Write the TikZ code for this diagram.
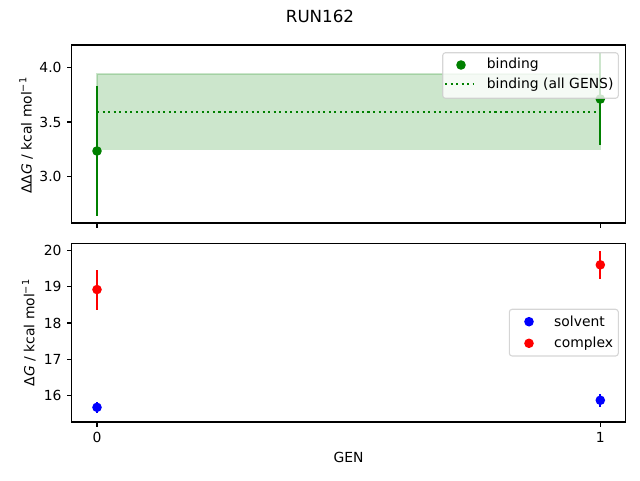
\documentclass[tikz,border=0pt]{standalone}
\usepackage{fontspec}
\setmainfont{DejaVu Sans}
\definecolor{mplgreen}{HTML}{008000}
\definecolor{mplblue}{HTML}{0000FF}
\definecolor{mplred}{HTML}{FF0000}
\definecolor{legendedge}{HTML}{CCCCCC}
\newcommand{\mplfont}{\fontsize{13.9}{16.7}\selectfont}
\begin{document}
\begin{tikzpicture}[x=1pt,y=1pt,
    spine/.style={line width=1.11pt},
    tickmark/.style={line width=1.11pt},
    ticklabel/.style={font=\mplfont,inner sep=0pt},
    errbar/.style={line width=2.08pt},
    meanline/.style={line width=2.08pt,dash pattern=on 2.08pt off 3.44pt},
    dot/.style={circle,fill,inner sep=0pt,minimum size=9.6pt},
    legendbox/.style={draw=legendedge,line width=1.11pt,fill=white,fill opacity=0.8,draw opacity=0.8,rounded corners=2.8pt},
    legendtext/.style={font=\mplfont,inner sep=0pt,anchor=west}]
  \useasboundingbox (0,0) rectangle (640,480);
  \node[font=\fontsize{16.7}{20}\selectfont,anchor=base] (title) at (320,457.3) {RUN162};

  % upper panel: binding
  \begin{scope}[x=503.3pt,y=109.4pt,shift={(97pt,-24.9pt)}]
    \filldraw[mplgreen,fill opacity=0.2,draw opacity=0.2,line width=1.39pt] (0,3.25) rectangle (1,3.94);
    \draw[meanline,mplgreen] (0,3.595) -- (1,3.595);
    \draw[errbar,mplgreen] (0,2.645) -- (0,3.825);
    \draw[errbar,mplgreen] (1,3.29) -- (1,4.13);
    \node[dot,mplgreen] (bind0) at (0,3.235) {};
    \node[dot,mplgreen] (bind1) at (1,3.71) {};
    \draw[spine] (-0.05,2.577) rectangle (1.05,4.204);
    \foreach \v [count=\i] in {3.0,3.5,4.0}
      \draw[tickmark] (-0.05,\v) -- ++(-4.86pt,0) node[ticklabel,anchor=east,xshift=-4.86pt] (ytop\i) {\v};
    \foreach \g in {0,1}
      \draw[tickmark] (\g,2.577) -- ++(0,-4.86pt);
  \end{scope}
  \node[font=\mplfont,rotate=90,anchor=base] (ylabeltop) at (31.7,344.5) {ΔΔ\textit{G} / kcal mol\textsuperscript{−1}};

  % lower panel: solvent and complex
  \begin{scope}[x=503.3pt,y=36.35pt,shift={(97pt,-497.3pt)}]
    \draw[errbar,mplred] (0,18.37) -- (0,19.47);
    \draw[errbar,mplred] (1,19.22) -- (1,19.98);
    \draw[errbar,mplblue] (0,15.52) -- (0,15.84);
    \draw[errbar,mplblue] (1,15.70) -- (1,16.05);
    \node[dot,mplred] (cplx0) at (0,18.92) {};
    \node[dot,mplred] (cplx1) at (1,19.6) {};
    \node[dot,mplblue] (solv0) at (0,15.68) {};
    \node[dot,mplblue] (solv1) at (1,15.875) {};
    \draw[spine] (-0.05,15.277) rectangle (1.05,20.19);
    \foreach \v in {16,...,20}
      \draw[tickmark] (-0.05,\v) -- ++(-4.86pt,0) node[ticklabel,anchor=east,xshift=-4.86pt] (ybot\v) {\v};
    \foreach \g in {0,1}
      \draw[tickmark] (\g,15.277) -- ++(0,-4.86pt) node[ticklabel,anchor=north,yshift=-4.86pt] (xtick\g) {\g};
  \end{scope}
  \node[font=\mplfont,rotate=90,anchor=base] (ylabelbot) at (34.3,147.3) {Δ\textit{G} / kcal mol\textsuperscript{−1}};
  \node[font=\mplfont,anchor=base] (xlabel) at (348.5,17.7) {GEN};

  % legends
  \draw[legendbox] (442.7,381.7) rectangle (618.3,427.3);
  \node[dot,mplgreen] (keybind) at (461,415) {};
  \draw[meanline,mplgreen] (445,395.7) -- (474,395.7);
  \node[legendtext] (txtbind) at (486.7,415) {binding};
  \node[legendtext] (txtall) at (486.7,395.7) {binding (all GENS)};

  \draw[legendbox] (509.3,124) rectangle (618.3,170.7);
  \node[dot,mplblue] (keysolv) at (529,158.3) {};
  \node[dot,mplred] (keycplx) at (529,136.7) {};
  \node[legendtext] (txtsolv) at (554,158.3) {solvent};
  \node[legendtext] (txtcplx) at (554,136.7) {complex};
\end{tikzpicture}
\end{document}
